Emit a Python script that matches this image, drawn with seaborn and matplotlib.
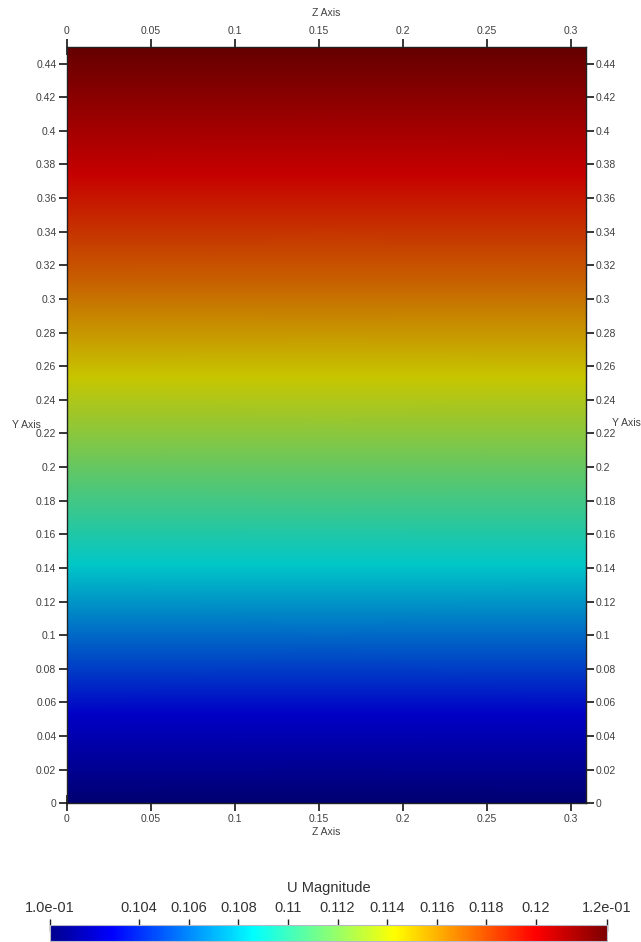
import numpy as np
import matplotlib
matplotlib.use("Agg")
import matplotlib.pyplot as plt
from matplotlib.colors import LinearSegmentedColormap, Normalize
from matplotlib.cm import ScalarMappable
import seaborn as sns

# ---------------- data ----------------
y_nodes = [0.0, 0.053, 0.142, 0.20, 0.253, 0.31, 0.374, 0.45]
u_values = [0.10041, 0.10290, 0.10860, 0.11146, 0.11431, 0.11716, 0.12001, 0.12286]
z_nodes = [0.0, 0.309]

z_ticks = [0, 0.05, 0.1, 0.15, 0.2, 0.25, 0.3]
z_tick_labels = ["0", "0.05", "0.1", "0.15", "0.2", "0.25", "0.3"]
y_ticks = [0, 0.02, 0.04, 0.06, 0.08, 0.1, 0.12, 0.14, 0.16, 0.18, 0.2, 0.22,
           0.24, 0.26, 0.28, 0.3, 0.32, 0.34, 0.36, 0.38, 0.4, 0.42, 0.44]
y_tick_labels = ["0", "0.02", "0.04", "0.06", "0.08", "0.1", "0.12", "0.14",
                 "0.16", "0.18", "0.2", "0.22", "0.24", "0.26", "0.28", "0.3",
                 "0.32", "0.34", "0.36", "0.38", "0.4", "0.42", "0.44"]

cbar_range = [0.10041, 0.12286]
cbar_ticks = [0.104, 0.106, 0.108, 0.11, 0.112, 0.114, 0.116, 0.118, 0.12]
cbar_tick_labels = ["0.104", "0.106", "0.108", "0.11", "0.112", "0.114",
                    "0.116", "0.118", "0.12"]
cbar_end_labels = ["1.0e-01", "1.2e-01"]
cbar_title = "U Magnitude"
x_title = "Z Axis"
y_title = "Y Axis"

# ParaView "Jet" colour map
jet_pos = [0.0, 0.111111, 0.365079, 0.492063, 0.619048, 0.873016, 1.0]
jet_rgb = [(0, 0, 0.5625), (0, 0, 1), (0, 1, 1), (0.5, 1, 0.5), (1, 1, 0),
           (1, 0, 0), (0.5, 0, 0)]
shade = 0.78  # surface lighting darkens the rendered field

# ---------------- style ----------------
sns.set_theme(style="white")
plt.rcParams["font.family"] = ["Liberation Sans", "DejaVu Sans"]
txt_col = "#404040"

cmap_bar = LinearSegmentedColormap.from_list(
    "pv_jet", list(zip(jet_pos, jet_rgb)))
cmap_field = LinearSegmentedColormap.from_list(
    "pv_jet_lit", list(zip(jet_pos, [tuple(c * shade for c in rgb) for rgb in jet_rgb])))
norm = Normalize(vmin=cbar_range[0], vmax=cbar_range[1])

W, H = 641, 942
fig = plt.figure(figsize=(W / 100, H / 100), dpi=100)
fig.patch.set_facecolor("white")

L, R, T, B = 66.7, 585.7, 46.7, 803.3
ax = fig.add_axes([L / W, 1 - B / H, (R - L) / W, (B - T) / H])

Z, Y = np.meshgrid(np.array(z_nodes), np.array(y_nodes))
U = np.tile(np.array(u_values)[:, None], (1, len(z_nodes)))
ax.pcolormesh(Z, Y, U, shading="gouraud", cmap=cmap_field, norm=norm)

ax.set_xlim(z_nodes[0], z_nodes[-1])
ax.set_ylim(0, 0.45)
ax.set_xticks(z_ticks)
ax.set_xticklabels(z_tick_labels)
ax.set_yticks(y_ticks)
ax.set_yticklabels(y_tick_labels)
ax.tick_params(axis="both", which="major", direction="inout", length=12,
               width=1.1, color="black", top=True, right=True, bottom=True,
               left=True, labeltop=True, labelright=True, labelbottom=True,
               labelleft=True, labelsize=7.5, labelcolor=txt_col, pad=1.5)
for s in ax.spines.values():
    s.set_color("#222222")
    s.set_linewidth(1.0)
ax.grid(False)

fig.text(326 / W, 1 - 13 / H, x_title, ha="center", va="center",
         fontsize=7.5, color=txt_col)
fig.text(326 / W, 1 - 832 / H, x_title, ha="center", va="center",
         fontsize=7.5, color=txt_col)
fig.text(26 / W, 1 - 425 / H, y_title, ha="center", va="center",
         fontsize=7.5, color=txt_col)
fig.text(626 / W, 1 - 423 / H, y_title, ha="center", va="center",
         fontsize=7.5, color=txt_col)

# ---------------- colour bar ----------------
cax = fig.add_axes([50 / W, 1 - 941 / H, (607 - 50) / W, 16 / H])
cb = fig.colorbar(ScalarMappable(norm=norm, cmap=cmap_bar), cax=cax,
                  orientation="horizontal")
cb.outline.set_edgecolor("#b8b8c8")
cb.outline.set_linewidth(0.8)
cax.xaxis.set_ticks_position("top")
cax.xaxis.set_label_position("top")
cb.set_ticks([cbar_range[0]] + cbar_ticks + [cbar_range[1]])
cb.set_ticklabels([cbar_end_labels[0]] + cbar_tick_labels + [cbar_end_labels[1]])
cax.tick_params(axis="x", direction="inout", length=9, width=1.0,
                color="#222222", labelsize=10.5, labelcolor="#333333", pad=3)
cax.minorticks_off()
fig.text(328.5 / W, 1 - 888 / H, cbar_title, ha="center", va="center",
         fontsize=10.5, color="#333333")

fig.savefig("out.png", dpi=100, facecolor="white")
